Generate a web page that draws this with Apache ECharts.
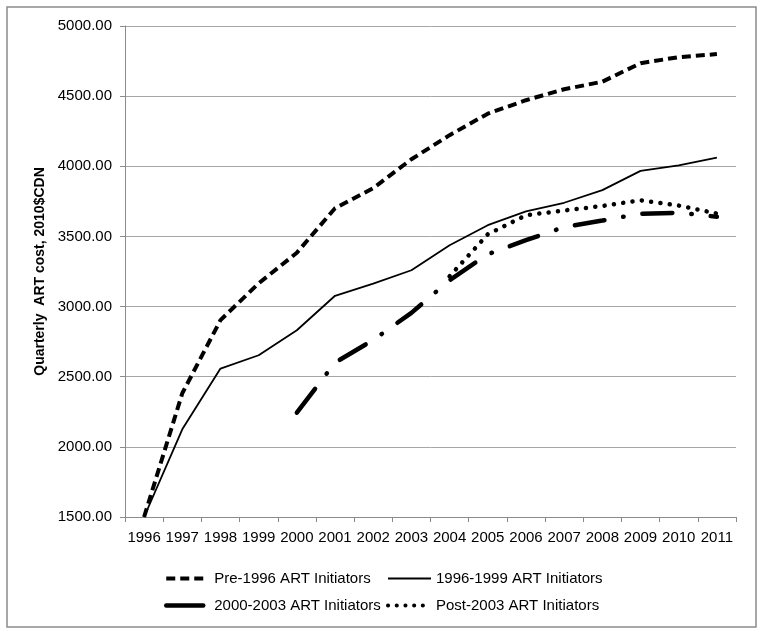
<!DOCTYPE html>
<html>
<head>
<meta charset="utf-8">
<script src="https://cdn.jsdelivr.net/npm/echarts@6/dist/echarts.min.js"></script>
<style>
html,body{margin:0;padding:0;background:#fff;}
#chart{width:762px;height:635px;}
</style>
</head>
<body>
<div id="chart"></div>
<script>
var years = ['1996','1997','1998','1999','2000','2001','2002','2003','2004','2005','2006','2007','2008','2009','2010','2011'];
var pre1996 = [1500, 2382, 2903, 3166, 3384, 3701, 3844, 4050, 4222, 4375, 4471, 4549, 4603, 4735, 4778, 4800];
var art9699 = [1500, 2125, 2558, 2653, 2831, 3077, 3163, 3259, 3437, 3580, 3678, 3740, 3830, 3967, 4007, 4062];
var art0003 = [null, null, null, null, 2244, 2600, 2762, 2955, 3188, 3373, 3473, 3567, 3613, 3662, 3669, 3640];
var post2003 = [null, null, null, null, null, null, null, null, 3216, 3515, 3651, 3685, 3717, 3758, 3720, 3663];
var yTicks = {min: 1500, max: 5000, interval: 500};
var names = ['Pre-1996 ART Initiators', '1996-1999 ART Initiators', '2000-2003 ART Initiators', 'Post-2003 ART Initiators'];

var FONT = 'Liberation Sans';
var styles = [
  {color: '#000', width: 4, type: [9, 5]},
  {color: '#000', width: 1.8, type: 'solid'},
  {color: '#000', width: 4.5, type: [30, 19, 0.5, 19], cap: 'round'},
  {color: '#000', width: 4.5, type: [0.1, 9.3], cap: 'round'}
];
var legendStyles = [
  {color: '#000', width: 4, type: [9, 5]},
  {color: '#000', width: 1.8, type: 'solid'},
  {color: '#000', width: 4.5, type: 'solid', cap: 'round'},
  {color: '#000', width: 4, type: [0.1, 8.6], cap: 'round'}
];
function legendItem(i) {
  return {name: names[i], lineStyle: legendStyles[i],
    itemStyle: {color: 'rgba(0,0,0,0)', borderWidth: 0, opacity: 0}};
}
var chart = echarts.init(document.getElementById('chart'), null, {renderer: 'canvas'});
var legendText = {fontFamily: FONT, fontSize: 15, color: '#000'};
chart.setOption({
  backgroundColor: '#fff',
  animation: false,
  graphic: [{
    type: 'rect', shape: {x: 7, y: 7, width: 749, height: 620},
    style: {fill: 'none', stroke: '#8c8c8c', lineWidth: 1.5}, silent: true, z: -1
  }],
  grid: {left: 125, right: 26, top: 26, bottom: 118, containLabel: false},
  legend: [{
    data: [legendItem(0), legendItem(2)], orient: 'vertical', left: 159, top: 566,
    itemWidth: 37, itemHeight: 14, itemGap: 12, textStyle: Object.assign({padding: [0, 0, 0, 6]}, legendText)
  }, {
    data: [legendItem(1), legendItem(3)], orient: 'vertical', left: 381, top: 566,
    itemWidth: 43, itemHeight: 14, itemGap: 12, textStyle: legendText
  }],
  xAxis: {
    type: 'category', data: years, boundaryGap: true,
    axisLine: {lineStyle: {color: '#8c8c8c', width: 1}},
    axisTick: {show: true, length: 5, lineStyle: {color: '#8c8c8c'}},
    axisLabel: {fontFamily: FONT, fontSize: 15, color: '#000', margin: 13, interval: 0}
  },
  yAxis: {
    type: 'value', min: yTicks.min, max: yTicks.max, interval: yTicks.interval,
    name: 'Quarterly  ART cost, 2010$CDN', nameLocation: 'middle', nameRotate: 90, nameGap: 75,
    nameTextStyle: {fontFamily: FONT, fontSize: 14, fontWeight: 'bold', color: '#000'},
    axisLine: {show: true, lineStyle: {color: '#8c8c8c', width: 1}},
    axisTick: {show: true, length: 5, lineStyle: {color: '#8c8c8c'}},
    axisLabel: {fontFamily: FONT, fontSize: 15, color: '#000', margin: 13,
      formatter: function (v) { return v.toFixed(2); }},
    splitLine: {lineStyle: {color: '#a6a6a6', width: 1}}
  },
  series: [
    {name: names[0], type: 'line', data: pre1996, symbol: 'none', color: '#000', lineStyle: styles[0]},
    {name: names[1], type: 'line', data: art9699, symbol: 'none', color: '#000', lineStyle: styles[1]},
    {name: names[2], type: 'line', data: art0003, symbol: 'none', color: '#000', lineStyle: styles[2]},
    {name: names[3], type: 'line', data: post2003, symbol: 'none', color: '#000', lineStyle: styles[3]}
  ]
});
</script>
</body>
</html>
